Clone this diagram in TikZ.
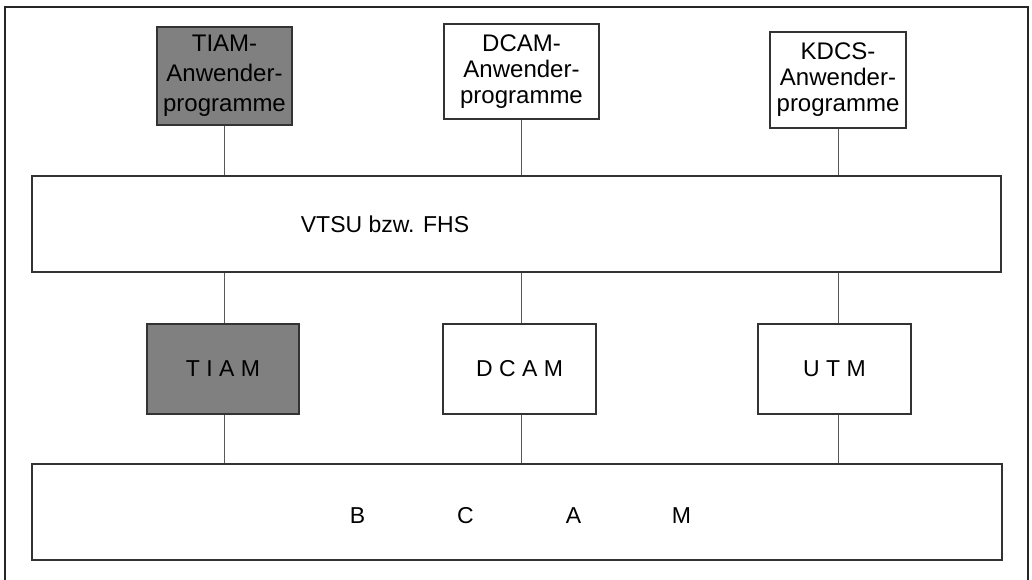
\documentclass[tikz,border=0pt]{standalone}
\usepackage{fontspec}
\setmainfont{Liberation Sans}
\begin{document}
\begin{tikzpicture}[x=1pt,y=-1pt,
  box/.style={draw=black!80, line width=1.1pt, inner sep=0pt, align=center,
    font=\fontsize{23}{22}\selectfont},
  appbox/.style={box, font=\fontsize{24}{26}\selectfont},
  dark/.style={fill=black!50},
  lbl/.style={inner sep=0pt, font=\fontsize{23}{22}\selectfont},
  conn/.style={draw=black!65, line width=1pt},
  frame/.style={draw=black!85, line width=1.3pt}]
\useasboundingbox (0,0) rectangle (1032,580);
\draw[frame] (5,585) -- (5,7) -- (1028,7) -- (1028,585);
% top row
\node[appbox, dark, font=\fontsize{24}{30}\selectfont, minimum width=135pt, minimum height=98pt] (tiamA) at (224.5,76) {TIAM-\\Anwender-\\programme};
\node[appbox, minimum width=155pt, minimum height=95pt] (dcamA) at (521.5,71.5) {DCAM-\\Anwender-\\programme};
\node[appbox, minimum width=136pt, minimum height=96pt] (kdcsA) at (838,80) {KDCS-\\Anwender-\\programme};
% VTSU layer
\node[box, minimum width=969pt, minimum height=96pt] (vtsu) at (516.5,224) {};
\node[lbl] (vtsutext) at (385,224) {VTSU bzw. FHS};
% middle row
\node[box, dark, minimum width=152pt, minimum height=90pt] (tiam) at (223,369) {T I A M};
\node[box, minimum width=153pt, minimum height=90pt] (dcam) at (519.5,369) {D C A M};
\node[box, minimum width=153pt, minimum height=90pt] (utm) at (834.5,369) {U T M};
% BCAM layer
\node[box, minimum width=970pt, minimum height=96pt] (bcam) at (517,512) {};
\node[lbl] (bcamtext) at (519.5,516) {\makebox[108pt]{B}\makebox[108pt]{C}\makebox[108pt]{A}\makebox[108pt]{M}};
% connectors
\draw[conn] (tiamA.south) -- (vtsu.north -| tiamA.south);
\draw[conn] (vtsu.south -| tiamA.south) -- (tiam.north -| tiamA.south);
\draw[conn] (tiam.south -| tiamA.south) -- (bcam.north -| tiamA.south);
\draw[conn] (dcamA.south) -- (vtsu.north -| dcamA.south);
\draw[conn] (vtsu.south -| dcamA.south) -- (dcam.north -| dcamA.south);
\draw[conn] (dcam.south -| dcamA.south) -- (bcam.north -| dcamA.south);
\draw[conn] (kdcsA.south) -- (vtsu.north -| kdcsA.south);
\draw[conn] (vtsu.south -| kdcsA.south) -- (utm.north -| kdcsA.south);
\draw[conn] (utm.south -| kdcsA.south) -- (bcam.north -| kdcsA.south);
\end{tikzpicture}
\end{document}
